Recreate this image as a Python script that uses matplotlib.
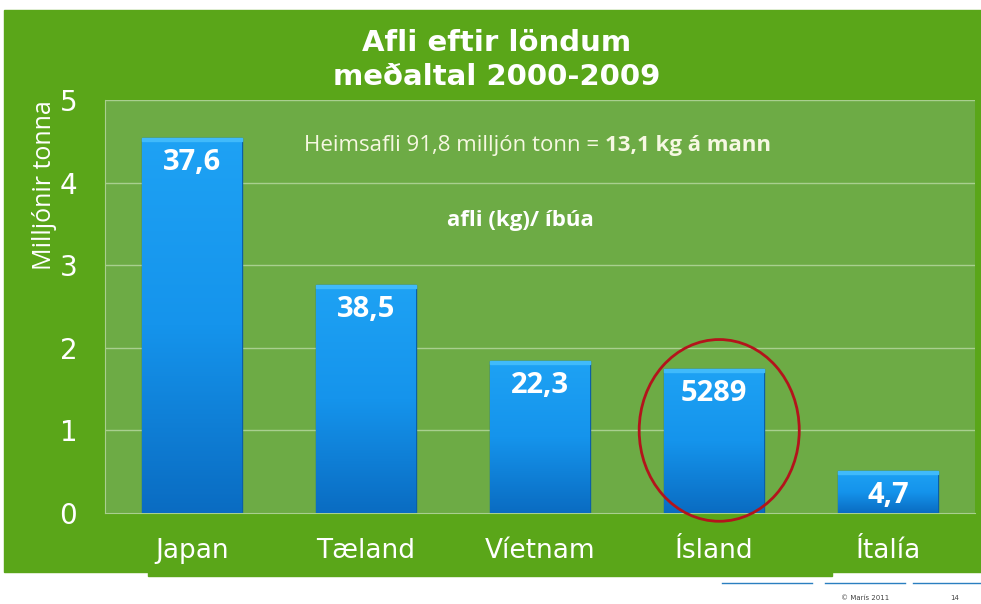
import matplotlib.pyplot as plt
import numpy as np
from matplotlib.patches import Rectangle, Ellipse
from matplotlib.colors import LinearSegmentedColormap

countries = ['Japan', 'Tæland', 'Víetnam', 'Ísland', 'Ítalía']
catch_mt = [4.54, 2.76, 1.84, 1.74, 0.51]
per_capita = ['37,6', '38,5', '22,3', '5289', '4,7']
yticks = [0, 1, 2, 3, 4, 5]

narrow = ['Liberation Sans Narrow', 'DejaVu Sans']
plain = ['Open Sans', 'DejaVu Sans']

fig = plt.figure(figsize=(9.81, 6.04), dpi=100)
fig.patch.set_facecolor('white')

# green slide panel behind the chart
fig.patches.append(Rectangle((4 / 981, 1 - 572 / 604), 977 / 981, 562 / 604,
                             transform=fig.transFigure, color='#5aa619', zorder=-5))
fig.patches.append(Rectangle((148 / 981, 1 - 576 / 604), 684 / 981, 6 / 604,
                             transform=fig.transFigure, color='#5aa619', zorder=-5))

ax = fig.add_axes([105 / 981, 1 - 513 / 604, 870 / 981, 413 / 604])
ax.set_zorder(1)
ax.set_facecolor('#6dab45')

for y in yticks[1:]:
    ax.axhline(y, color='#a9cf8f', lw=1, zorder=1)

x = np.arange(len(countries))
w = 0.57
bars = ax.bar(x, catch_mt, width=w, color='#1590e6', edgecolor='#0b5fa8', lw=1, zorder=2)

# vertical gradient inside each bar
grad = np.linspace(0, 1, 256).reshape(-1, 1)
cmap = LinearSegmentedColormap.from_list('b', ['#0a6cc2', '#1594ec', '#1ea2f4'])
for b in bars:
    x0, h = b.get_x(), b.get_height()
    im = ax.imshow(grad, extent=[x0, x0 + w, 0, h], origin='lower', aspect='auto',
                   cmap=cmap, zorder=3)
    im.set_clip_path(b)
    ax.add_patch(Rectangle((x0, h - 0.035), w, 0.035, color='#40bafb', zorder=4))

for xi, h, lab in zip(x, catch_mt, per_capita):
    ax.text(xi, h - 0.12, lab, ha='center', va='top', color='white',
            fontsize=21, fontweight='bold', family=plain, zorder=5)

ax.set_xlim(-0.5, len(countries) - 0.5)
ax.set_ylim(0, 5)

ax.add_patch(Ellipse((3.03, 1.0), 0.92, 2.2, fill=False, ec='#b3141b', lw=2,
                     zorder=6, clip_on=False))

ax.text(0.575, 0.889, 'Heimsafli 91,8 milljón tonn = ', transform=ax.transAxes,
        ha='right', va='center', color='#f6f8e2', fontsize=16, family=plain)
ax.text(0.575, 0.889, '13,1 kg á mann', transform=ax.transAxes,
        ha='left', va='center', color='#f6f8e2', fontsize=16, fontweight='bold', family=plain)
ax.text(0.478, 0.709, 'afli (kg)/ íbúa', transform=ax.transAxes,
        ha='center', va='center', color='white', fontsize=16, fontweight='bold', family=plain)

ax.set_yticks(yticks)
ax.set_yticklabels([str(t) for t in yticks], color='white', fontsize=20, family=narrow)
ax.set_xticks(x)
ax.set_xticklabels(countries, color='white', fontsize=19, family=narrow)
ax.tick_params(length=0, axis='y', pad=20)
ax.tick_params(length=0, axis='x', pad=18)
for s in ['top', 'right']:
    ax.spines[s].set_visible(False)
ax.spines['left'].set_color('#a9cf8f')
ax.spines['bottom'].set_color('#a9cf8f')

ax.set_ylabel('Milljónir tonna', color='white', fontsize=18, family=plain)
ax.yaxis.set_label_coords(-0.055, 0.794)

fig.text(497 / 981, 1 - 60 / 604, 'Afli eftir löndum\nmeðaltal 2000-2009', ha='center',
         va='center', color='white', fontsize=21, fontweight='bold', family=narrow,
         linespacing=1.3)

# footer lines and text
for a, b in [(722, 812), (825, 905), (913, 981)]:
    fig.add_artist(plt.Line2D([a / 981, b / 981], [1 - 583 / 604] * 2,
                              transform=fig.transFigure, color='#2a7fc0', lw=1))
fig.text(865 / 981, 1 - 600 / 604, '© Marís 2011', fontsize=5, color='#444444', ha='center')
fig.text(955 / 981, 1 - 600 / 604, '14', fontsize=5, color='#444444', ha='center')

fig.savefig('out.png', dpi=100)
